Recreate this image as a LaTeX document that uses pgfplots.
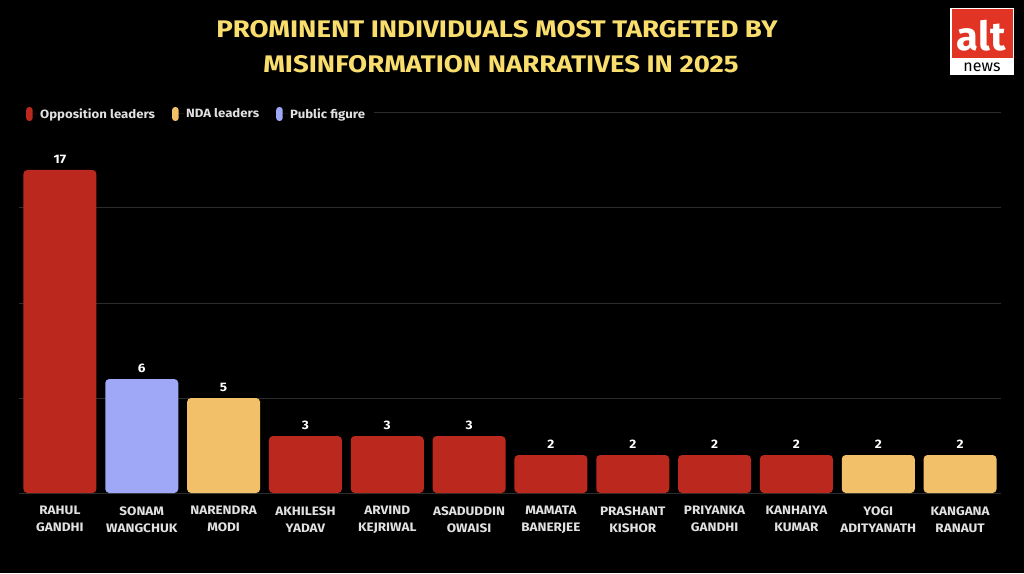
\documentclass[border=0pt]{standalone}
\usepackage{pgfplots}
\pgfplotsset{compat=1.18}
\usepackage{fontspec}
\setmainfont{Fira Sans}
\newfontfamily\titlefont[FakeStretch=1.15]{Fira Sans}
\newfontfamily\labfont[FakeStretch=1.1]{Fira Sans}
\definecolor{oppred}{RGB}{187,40,30}
\definecolor{ndayel}{RGB}{242,192,104}
\definecolor{pubblue}{RGB}{158,168,247}
\definecolor{titleyel}{RGB}{249,222,109}
\definecolor{gridgray}{RGB}{44,44,44}
\definecolor{labelgray}{RGB}{225,225,225}
\definecolor{altred}{RGB}{226,52,36}

\begin{document}
\begin{tikzpicture}
\useasboundingbox (0pt,0pt) rectangle (1024pt,573pt);
\fill[black] (0pt,0pt) rectangle (1024pt,573pt);

% title
\node[text=titleyel, font=\titlefont\bfseries\fontsize{24}{24}\selectfont] at (497pt,544pt) {PROMINENT INDIVIDUALS MOST TARGETED BY};
\node[text=titleyel, font=\titlefont\bfseries\fontsize{24}{24}\selectfont] at (501pt,509pt) {MISINFORMATION NARRATIVES IN 2025};

% logo
\fill[white] (950pt,498pt) rectangle (1014pt,565pt);
\fill[altred] (951.5pt,515pt) rectangle (1012.5pt,563.5pt);
\node[white, font=\bfseries\fontsize{40}{40}\selectfont, inner sep=0pt] at (981pt,537pt) {alt};
\node[black, font=\fontsize{16}{16}\selectfont, inner sep=0pt] at (982pt,506pt) {news};

\begin{axis}[
  at={(19pt,80pt)}, anchor=south west,
  scale only axis, width=982pt, height=380pt,
  xmin=-0.5, xmax=11.5, ymin=0, ymax=20,
  ybar, bar width=73pt,
  axis line style={draw=none},
  tick style={draw=none},
  ytick={0,5,10,15,20}, yticklabels={},
  ymajorgrids, grid style={gridgray, line width=1pt},
  xtick={0,...,11},
  xticklabels={RAHUL\\GANDHI, SONAM\\WANGCHUK, NARENDRA\\MODI, AKHILESH\\YADAV,
    ARVIND\\KEJRIWAL, ASADUDDIN\\OWAISI, MAMATA\\BANERJEE, PRASHANT\\KISHOR,
    PRIYANKA\\GANDHI, KANHAIYA\\KUMAR, YOGI\\ADITYANATH, KANGANA\\RANAUT},
  xticklabel style={align=center, text=labelgray, inner sep=0pt, yshift=-9pt,
    font=\labfont\bfseries\fontsize{12.3}{17}\selectfont},
  nodes near coords,
  /pgf/number format/assume math mode=true,
  every node near coord/.append style={text=white, inner sep=0pt, yshift=6pt,
    font=\labfont\bfseries\fontsize{12.3}{12.3}\selectfont},
  legend columns=3,
  legend style={fill=black, draw=none, text=labelgray, at={(0pt,379pt)}, anchor=west,
    font=\labfont\bfseries\fontsize{12}{12}\selectfont, inner xsep=7pt,
    /tikz/every even column/.append style={column sep=15pt}},
  legend cell align=left,
]
\addplot[fill=oppred, draw=none, bar shift=0pt, rounded corners=4pt,
  legend image code/.code={\path (0pt,0pt) -- (12pt,0pt);
    \fill[oppred, rounded corners=3pt] (0pt,-7pt) rectangle (6.5pt,7pt);}]
  coordinates {(0,17) (3,3) (4,3) (5,3) (6,2) (7,2) (8,2) (9,2)};
\addlegendentry{Opposition leaders}
\addplot[fill=ndayel, draw=none, bar shift=0pt, rounded corners=4pt,
  legend image code/.code={\path (0pt,0pt) -- (12pt,0pt);
    \fill[ndayel, rounded corners=3pt] (0pt,-7pt) rectangle (6.5pt,7pt);}]
  coordinates {(2,5) (10,2) (11,2)};
\addlegendentry{NDA leaders}
\addplot[fill=pubblue, draw=none, bar shift=0pt, rounded corners=4pt,
  legend image code/.code={\path (0pt,0pt) -- (12pt,0pt);
    \fill[pubblue, rounded corners=3pt] (0pt,-7pt) rectangle (6.5pt,7pt);}]
  coordinates {(1,6)};
\addlegendentry{Public figure}
\end{axis}
\end{tikzpicture}
\end{document}
